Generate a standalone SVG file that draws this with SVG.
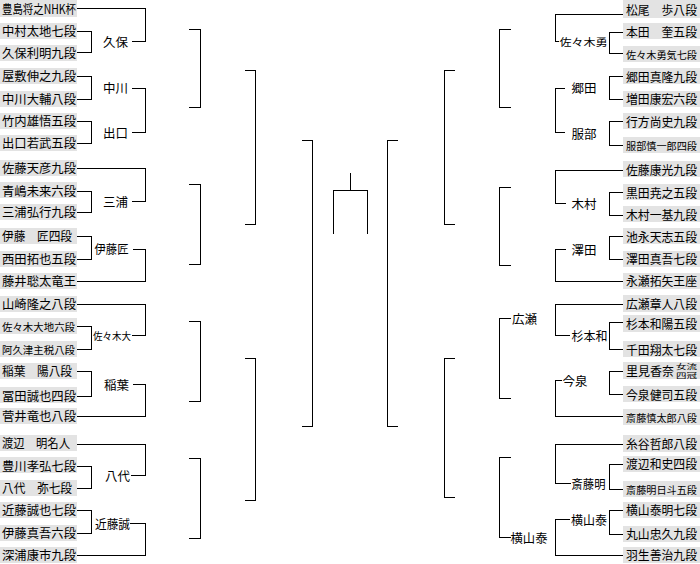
<svg xmlns="http://www.w3.org/2000/svg" width="700" height="564" viewBox="0 0 700 564">
<style>
.bg{fill:#fff}
.box{fill:#e3e3e3}
.t{font-family:"Noto Sans CJK JP","Noto Sans CJK SC",sans-serif;font-size:12.5px;fill:#000;dominant-baseline:central}
.s{font-size:10.5px}
.xs{font-size:6.5px}
.ln{fill:none;stroke:#000;stroke-width:1}
</style>
<rect class="bg" x="0" y="0" width="700" height="564"/>
<g id="connectors" class="ln" shape-rendering="crispEdges">
<path d="M77 8.5H145.5V41.5H132"/>
<path d="M77 31.5H91.5V52.5H77"/>
<path d="M77 76.5H91.5V99.5H77"/>
<path d="M77 121.5H91.5V143.5H77"/>
<path d="M132 88.5H145.5V132.5H132"/>
<path d="M77 168.5H145.5V201.5H132"/>
<path d="M77 191.5H91.5V212.5H77"/>
<path d="M77 236.5H91.5V259.5H77"/>
<path d="M133 249.5H145.5V281.5H77"/>
<path d="M77 304.5H145.5V335.5H132"/>
<path d="M77 326.5H91.5V349.5H77"/>
<path d="M77 371.5H91.5V396.5H77"/>
<path d="M133 384.5H145.5V416.5H77"/>
<path d="M77 444.5H145.5V475.5H131"/>
<path d="M77 466.5H91.5V488.5H77"/>
<path d="M77 510.5H91.5V533.5H77"/>
<path d="M130 523.5H145.5V555.5H77"/>
<path d="M189 29.5H200.5V107.5H189"/>
<path d="M189 184.5H200.5V264.5H189"/>
<path d="M189 321.5H200.5V401.5H189"/>
<path d="M189 458.5H200.5V538.5H189"/>
<path d="M245 70.5H255.5V224.5H245"/>
<path d="M245 358.5H255.5V500.5H245"/>
<path d="M302 140.5H312.5V426.5H302"/>
<path d="M350.5 173V190.5M333.5 234V190.5H367.5V234"/>
<path d="M398 140.5H387.5V426.5H398"/>
<path d="M455 70.5H444.5V224.5H455"/>
<path d="M455 358.5H444.5V497.5H455"/>
<path d="M511 29.5H499.5V107.5H511"/>
<path d="M511 187.5H499.5V265.5H511"/>
<path d="M511 318.5H499.5V398.5H511"/>
<path d="M511 457.5H499.5V537.5H511"/>
<path d="M623 14.5H555.5V41.5H559"/>
<path d="M623 32.5H609.5V53.5H623"/>
<path d="M565 88.5H555.5V132.5H565"/>
<path d="M623 76.5H609.5V99.5H623"/>
<path d="M623 121.5H609.5V145.5H623"/>
<path d="M623 170.5H555.5V203.5H566"/>
<path d="M623 192.5H609.5V215.5H623"/>
<path d="M566 249.5H555.5V281.5H623"/>
<path d="M623 236.5H609.5V259.5H623"/>
<path d="M623 304.5H555.5V335.5H570"/>
<path d="M623 322.5H609.5V349.5H623"/>
<path d="M562 380.5H555.5V416.5H623"/>
<path d="M623 371.5H609.5V394.5H623"/>
<path d="M623 444.5H555.5V483.5H571"/>
<path d="M623 464.5H609.5V489.5H623"/>
<path d="M570 519.5H555.5V555.5H623"/>
<path d="M623 510.5H609.5V534.5H623"/>
</g>
<!-- left players -->
<g id="L00"><rect class="box" x="0" y="0" width="77" height="17"/><text class="t" x="2" y="8" textLength="74" lengthAdjust="spacingAndGlyphs">豊島将之NHK杯</text></g>
<g id="L01"><rect class="box" x="0" y="23" width="77" height="16"/><text class="t" x="2" y="30.5" textLength="74" lengthAdjust="spacingAndGlyphs">中村太地七段</text></g>
<g id="L02"><rect class="box" x="0" y="45" width="77" height="16"/><text class="t" x="2" y="52" textLength="74" lengthAdjust="spacingAndGlyphs">久保利明九段</text></g>
<g id="L03"><rect class="box" x="0" y="68" width="77" height="16"/><text class="t" x="2" y="75.5" textLength="74" lengthAdjust="spacingAndGlyphs">屋敷伸之九段</text></g>
<g id="L04"><rect class="box" x="0" y="91" width="77" height="16"/><text class="t" x="2" y="98" textLength="74" lengthAdjust="spacingAndGlyphs">中川大輔八段</text></g>
<g id="L05"><rect class="box" x="0" y="113" width="77" height="16"/><text class="t" x="2" y="120.5" textLength="74" lengthAdjust="spacingAndGlyphs">竹内雄悟五段</text></g>
<g id="L06"><rect class="box" x="0" y="135" width="77" height="16"/><text class="t" x="2" y="142.5" textLength="74" lengthAdjust="spacingAndGlyphs">出口若武五段</text></g>
<g id="L07"><rect class="box" x="0" y="160" width="77" height="16"/><text class="t" x="2" y="167.5" textLength="74" lengthAdjust="spacingAndGlyphs">佐藤天彦九段</text></g>
<g id="L08"><rect class="box" x="0" y="182" width="77" height="16"/><text class="t" x="2" y="190" textLength="74" lengthAdjust="spacingAndGlyphs">青嶋未来六段</text></g>
<g id="L09"><rect class="box" x="0" y="204" width="77" height="16"/><text class="t" x="2" y="211.5" textLength="74" lengthAdjust="spacingAndGlyphs">三浦弘行九段</text></g>
<g id="L10"><rect class="box" x="0" y="228" width="77" height="16"/><text class="t" x="2" y="235.5" textLength="70" lengthAdjust="spacingAndGlyphs">伊藤　匠四段</text></g>
<g id="L11"><rect class="box" x="0" y="251" width="77" height="16"/><text class="t" x="2" y="258.5" textLength="74" lengthAdjust="spacingAndGlyphs">西田拓也五段</text></g>
<g id="L12"><rect class="box" x="0" y="273" width="77" height="16"/><text class="t" x="2" y="280" textLength="74" lengthAdjust="spacingAndGlyphs">藤井聡太竜王</text></g>
<g id="L13"><rect class="box" x="0" y="296" width="77" height="16"/><text class="t" x="2" y="303.5" textLength="74" lengthAdjust="spacingAndGlyphs">山崎隆之八段</text></g>
<g id="L14"><rect class="box" x="0" y="318" width="77" height="16"/><text class="t s" x="2" y="326" textLength="73" lengthAdjust="spacingAndGlyphs">佐々木大地六段</text></g>
<g id="L15"><rect class="box" x="0" y="341" width="77" height="16"/><text class="t s" x="2" y="349" textLength="73" lengthAdjust="spacingAndGlyphs">阿久津主税八段</text></g>
<g id="L16"><rect class="box" x="0" y="363" width="77" height="16"/><text class="t" x="2" y="370.5" textLength="70" lengthAdjust="spacingAndGlyphs">稲葉　陽八段</text></g>
<g id="L17"><rect class="box" x="0" y="387" width="77" height="16"/><text class="t" x="2" y="395" textLength="74" lengthAdjust="spacingAndGlyphs">冨田誠也四段</text></g>
<g id="L18"><rect class="box" x="0" y="408" width="77" height="16"/><text class="t" x="2" y="415.5" textLength="74" lengthAdjust="spacingAndGlyphs">菅井竜也八段</text></g>
<g id="L19"><rect class="box" x="0" y="435" width="77" height="16"/><text class="t" x="2" y="442.5" textLength="68" lengthAdjust="spacingAndGlyphs">渡辺　明名人</text></g>
<g id="L20"><rect class="box" x="0" y="457" width="77" height="16"/><text class="t" x="2" y="465" textLength="74" lengthAdjust="spacingAndGlyphs">豊川孝弘七段</text></g>
<g id="L21"><rect class="box" x="0" y="480" width="77" height="16"/><text class="t" x="2" y="487.5" textLength="70" lengthAdjust="spacingAndGlyphs">八代　弥七段</text></g>
<g id="L22"><rect class="box" x="0" y="502" width="77" height="16"/><text class="t" x="2" y="509.5" textLength="74" lengthAdjust="spacingAndGlyphs">近藤誠也七段</text></g>
<g id="L23"><rect class="box" x="0" y="525" width="77" height="16"/><text class="t" x="2" y="532.5" textLength="74" lengthAdjust="spacingAndGlyphs">伊藤真吾六段</text></g>
<g id="L24"><rect class="box" x="0" y="547" width="77" height="16"/><text class="t" x="2" y="554.5" textLength="74" lengthAdjust="spacingAndGlyphs">深浦康市九段</text></g>
<!-- left winners -->
<g id="W-kubo"><text class="t" x="103" y="41">久保</text></g>
<g id="W-nakagawa"><text class="t" x="103" y="87.5">中川</text></g>
<g id="W-deguchi"><text class="t" x="103" y="132.5">出口</text></g>
<g id="W-miura"><text class="t" x="103" y="201">三浦</text></g>
<g id="W-itotakumi"><text class="t" x="94.5" y="248.5" textLength="34" lengthAdjust="spacingAndGlyphs">伊藤匠</text></g>
<g id="W-sasakidai"><text class="t s" x="93" y="335.5" textLength="38" lengthAdjust="spacingAndGlyphs">佐々木大</text></g>
<g id="W-inaba"><text class="t" x="104" y="384">稲葉</text></g>
<g id="W-yashiro"><text class="t" x="105" y="475">八代</text></g>
<g id="W-kondo"><text class="t" x="95" y="523" textLength="35" lengthAdjust="spacingAndGlyphs">近藤誠</text></g>
<!-- right players -->
<g id="R00"><rect class="box" x="623" y="0" width="77" height="18"/><text class="t" x="626" y="9" textLength="71" lengthAdjust="spacingAndGlyphs">松尾　歩八段</text></g>
<g id="R01"><rect class="box" x="623" y="23" width="77" height="16"/><text class="t" x="626" y="31" textLength="71" lengthAdjust="spacingAndGlyphs">本田　奎五段</text></g>
<g id="R02"><rect class="box" x="623" y="46" width="77" height="16"/><text class="t s" x="626" y="54" textLength="71" lengthAdjust="spacingAndGlyphs">佐々木勇気七段</text></g>
<g id="R03"><rect class="box" x="623" y="68" width="77" height="16"/><text class="t" x="626" y="76" textLength="71" lengthAdjust="spacingAndGlyphs">郷田真隆九段</text></g>
<g id="R04"><rect class="box" x="623" y="91" width="77" height="16"/><text class="t" x="626" y="98.5" textLength="71" lengthAdjust="spacingAndGlyphs">増田康宏六段</text></g>
<g id="R05"><rect class="box" x="623" y="113" width="77" height="16"/><text class="t" x="626" y="121" textLength="71" lengthAdjust="spacingAndGlyphs">行方尚史九段</text></g>
<g id="R06"><rect class="box" x="623" y="137" width="77" height="16"/><text class="t s" x="626" y="145.5" textLength="71" lengthAdjust="spacingAndGlyphs">服部慎一郎四段</text></g>
<g id="R07"><rect class="box" x="623" y="161" width="77" height="16"/><text class="t" x="626" y="169" textLength="71" lengthAdjust="spacingAndGlyphs">佐藤康光九段</text></g>
<g id="R08"><rect class="box" x="623" y="184" width="77" height="16"/><text class="t" x="626" y="192" textLength="71" lengthAdjust="spacingAndGlyphs">黒田尭之五段</text></g>
<g id="R09"><rect class="box" x="623" y="206" width="77" height="16"/><text class="t" x="626" y="214" textLength="71" lengthAdjust="spacingAndGlyphs">木村一基九段</text></g>
<g id="R10"><rect class="box" x="623" y="228" width="77" height="16"/><text class="t" x="626" y="236" textLength="71" lengthAdjust="spacingAndGlyphs">池永天志五段</text></g>
<g id="R11"><rect class="box" x="623" y="251" width="77" height="16"/><text class="t" x="626" y="258.5" textLength="71" lengthAdjust="spacingAndGlyphs">澤田真吾七段</text></g>
<g id="R12"><rect class="box" x="623" y="273" width="77" height="16"/><text class="t" x="626" y="280.5" textLength="71" lengthAdjust="spacingAndGlyphs">永瀬拓矢王座</text></g>
<g id="R13"><rect class="box" x="623" y="295" width="77" height="17"/><text class="t" x="626" y="303" textLength="71" lengthAdjust="spacingAndGlyphs">広瀬章人八段</text></g>
<g id="R14"><rect class="box" x="623" y="315" width="77" height="17"/><text class="t" x="626" y="323" textLength="71" lengthAdjust="spacingAndGlyphs">杉本和陽五段</text></g>
<g id="R15"><rect class="box" x="623" y="341" width="77" height="16"/><text class="t" x="626" y="349" textLength="71" lengthAdjust="spacingAndGlyphs">千田翔太七段</text></g>
<g id="R16"><rect class="box" x="623" y="362" width="77" height="17"/><text class="t" x="626" y="370.5" textLength="48" lengthAdjust="spacingAndGlyphs">里見香奈</text><text class="t xs" x="676" y="365.5" textLength="21" lengthAdjust="spacingAndGlyphs">女流</text><text class="t xs" x="676" y="375" textLength="21" lengthAdjust="spacingAndGlyphs">四冠</text></g>
<g id="R17"><rect class="box" x="623" y="386" width="77" height="16"/><text class="t" x="626" y="394" textLength="71" lengthAdjust="spacingAndGlyphs">今泉健司五段</text></g>
<g id="R18"><rect class="box" x="623" y="409" width="77" height="16"/><text class="t s" x="626" y="417" textLength="71" lengthAdjust="spacingAndGlyphs">斎藤慎太郎八段</text></g>
<g id="R19"><rect class="box" x="623" y="435" width="77" height="17"/><text class="t" x="626" y="443.5" textLength="71" lengthAdjust="spacingAndGlyphs">糸谷哲郎八段</text></g>
<g id="R20"><rect class="box" x="623" y="456" width="77" height="16"/><text class="t" x="626" y="463.5" textLength="71" lengthAdjust="spacingAndGlyphs">渡辺和史四段</text></g>
<g id="R21"><rect class="box" x="623" y="481" width="77" height="16"/><text class="t s" x="626" y="489" textLength="71" lengthAdjust="spacingAndGlyphs">斎藤明日斗五段</text></g>
<g id="R22"><rect class="box" x="623" y="502" width="77" height="16"/><text class="t" x="626" y="509.5" textLength="71" lengthAdjust="spacingAndGlyphs">横山泰明七段</text></g>
<g id="R23"><rect class="box" x="623" y="526" width="77" height="16"/><text class="t" x="626" y="533.5" textLength="71" lengthAdjust="spacingAndGlyphs">丸山忠久九段</text></g>
<g id="R24"><rect class="box" x="623" y="547" width="77" height="16"/><text class="t" x="626" y="554.5" textLength="71" lengthAdjust="spacingAndGlyphs">羽生善治九段</text></g>
<!-- right winners -->
<g id="W-sasakiyu"><text class="t s" x="559.5" y="41.5" textLength="48" lengthAdjust="spacingAndGlyphs">佐々木勇</text></g>
<g id="W-goda"><text class="t" x="571.5" y="87">郷田</text></g>
<g id="W-hattori"><text class="t" x="571.5" y="133">服部</text></g>
<g id="W-kimura"><text class="t" x="571.5" y="203">木村</text></g>
<g id="W-sawada"><text class="t" x="571.5" y="249">澤田</text></g>
<g id="W-sugimoto"><text class="t" x="571.5" y="335.5" textLength="36" lengthAdjust="spacingAndGlyphs">杉本和</text></g>
<g id="W-imaizumi"><text class="t" x="562.5" y="380">今泉</text></g>
<g id="W-saitoa"><text class="t" x="571.5" y="483.5" textLength="34" lengthAdjust="spacingAndGlyphs">斎藤明</text></g>
<g id="W-yokoyama"><text class="t" x="571" y="519.5" textLength="36" lengthAdjust="spacingAndGlyphs">横山泰</text></g>
<g id="W-hirose2"><text class="t" x="512" y="318">広瀬</text></g>
<g id="W-yokoyama2"><text class="t" x="510.5" y="537" textLength="37" lengthAdjust="spacingAndGlyphs">横山泰</text></g>
</svg>
